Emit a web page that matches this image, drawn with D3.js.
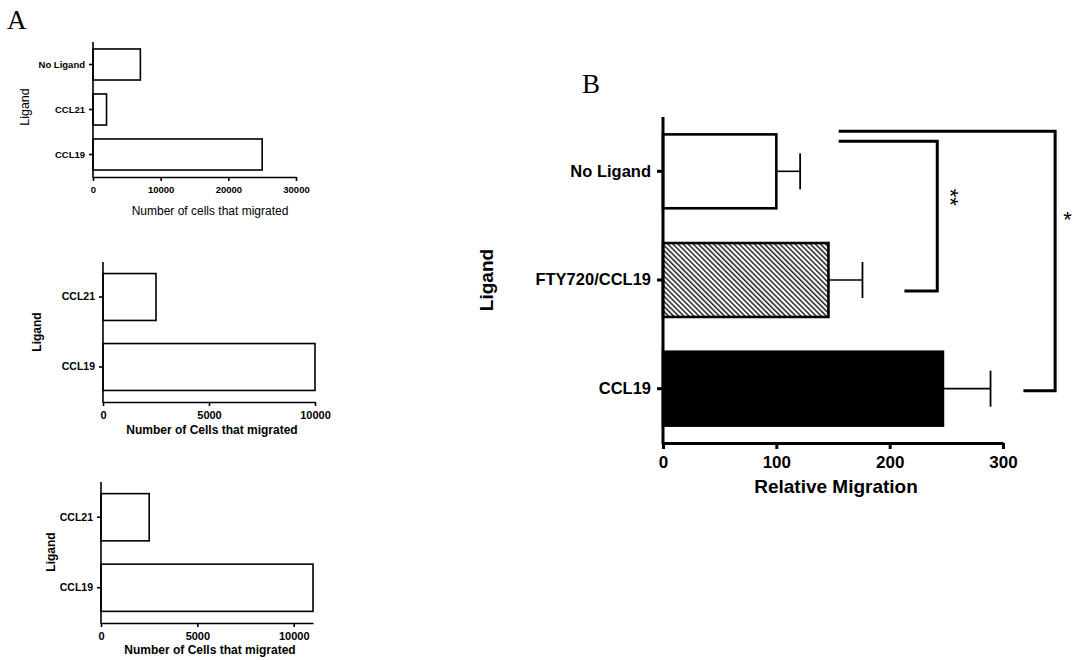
<!DOCTYPE html>
<html><head><meta charset="utf-8">
<script src="https://cdn.jsdelivr.net/npm/d3@7"></script>
<style>body{margin:0;background:#fff}svg{display:block}text{fill:#000}</style>
</head><body><svg id="c" width="1078" height="660" font-family="Liberation Sans, Arial, sans-serif"></svg>
<script>
// Panel A (top)
const a1Categories = ["No Ligand", "CCL21", "CCL19"];
const a1Values = [7000, 2000, 25000];
const a1Ticks = [0, 10000, 20000, 30000];
// Panel A (middle)
const a2Categories = ["CCL21", "CCL19"];
const a2Values = [2500, 10000];
const a2Ticks = [0, 5000, 10000];
// Panel A (bottom)
const a3Categories = ["CCL21", "CCL19"];
const a3Values = [2500, 11000];
const a3Ticks = [0, 5000, 10000];
// Panel B
const bCategories = ["No Ligand", "FTY720/CCL19", "CCL19"];
const bMeans = [100, 146, 247];
const bErrors = [21, 30, 42];
const bTicks = [0, 100, 200, 300];

const svg = d3.select("#c");
const defs = svg.append("defs");
const pat = defs.append("pattern").attr("id","hatch").attr("patternUnits","userSpaceOnUse")
  .attr("width",3.6).attr("height",3.6).attr("patternTransform","rotate(-45)");
pat.append("rect").attr("width",3.6).attr("height",3.6).attr("fill","#fff");
pat.append("line").attr("x1",0.8).attr("y1",0).attr("x2",0.8).attr("y2",3.6).attr("stroke","#000").attr("stroke-width",1.3);

function panel(o){
  const g = svg.append("g");
  const x = d3.scaleLinear().domain(o.domain).range([o.x0, o.x1]);
  const y = d3.scaleBand().domain(o.cats).range([o.yTop, o.yBottom]).paddingInner(o.pad).paddingOuter(o.pad/2);
  g.selectAll("rect.bar").data(o.vals).join("rect").attr("class","bar")
    .attr("x", x(0)).attr("y",(d,i)=>y(o.cats[i]))
    .attr("width", d=>x(d)-x(0)).attr("height", y.bandwidth())
    .attr("fill",(d,i)=>o.fills?o.fills[i]:"#fff").attr("stroke","#000").attr("stroke-width",o.barSW);
  if (o.errs){
    o.errs.forEach((e,i)=>{
      const cy = y(o.cats[i]) + y.bandwidth()/2;
      g.append("line").attr("x1",x(o.vals[i])).attr("x2",x(o.vals[i]+e)).attr("y1",cy).attr("y2",cy).attr("stroke","#000").attr("stroke-width",1.6);
      g.append("line").attr("x1",x(o.vals[i]+e)).attr("x2",x(o.vals[i]+e)).attr("y1",cy-18).attr("y2",cy+18).attr("stroke","#000").attr("stroke-width",1.8);
    });
  }
  const xa = g.append("g").attr("transform",`translate(0,${o.yBottom})`)
    .call(d3.axisBottom(x).tickValues(o.ticks).tickFormat(d3.format("d")).tickSize(o.tick).tickSizeOuter(0).tickPadding(o.tickPad));
  xa.attr("font-family",null);
  xa.select(".domain").attr("stroke-width",o.axSW);
  xa.selectAll(".tick line").attr("stroke-width",o.axSW);
  xa.selectAll("text").attr("font-size",o.tickFS).attr("font-weight","bold").attr("fill","#000");
  const ya = g.append("g").attr("transform",`translate(${o.x0},0)`)
    .call(d3.axisLeft(y).tickSize(o.tick).tickSizeOuter(0).tickPadding(o.tickPad-1));
  ya.attr("font-family",null);
  ya.select(".domain").attr("stroke-width",o.axSW).attr("d",`M0,${o.yTop}V${o.yBottom+o.axSW/2}`);
  ya.selectAll(".tick line").attr("stroke-width",o.axSW);
  ya.selectAll("text").attr("font-size",o.catFS).attr("font-weight","bold").attr("fill","#000");
  g.append("text").attr("x",o.titleX).attr("y",o.titleY).attr("text-anchor","middle").attr("dominant-baseline","middle")
    .attr("font-size",o.titleFS).attr("font-weight",o.titleW).text(o.title);
  g.append("text").attr("transform",`translate(${o.ligX},${o.ligY}) rotate(-90)`).attr("text-anchor","middle").attr("dominant-baseline","middle")
    .attr("font-size",o.ligFS).attr("font-weight",o.titleW).text("Ligand");
  return {x,y};
}

panel({cats:a1Categories, vals:a1Values, ticks:a1Ticks, domain:[0,30000], x0:93, x1:296, yTop:42, yBottom:177, pad:0.31,
  barSW:1.6, axSW:1.6, tick:4, tickPad:5, tickFS:9.5, catFS:9.5, title:"Number of cells that migrated", titleX:210, titleY:212,
  titleFS:12, titleW:"normal", ligX:26, ligY:107, ligFS:12.5});
panel({cats:a2Categories, vals:a2Values, ticks:a2Ticks, domain:[0,10000], x0:103, x1:315, yTop:262, yBottom:402, pad:0.33,
  barSW:1.6, axSW:1.6, tick:4, tickPad:5, tickFS:11, catFS:10.5, title:"Number of Cells that migrated", titleX:212, titleY:431,
  titleFS:12, titleW:"bold", ligX:38, ligY:332, ligFS:12});
panel({cats:a3Categories, vals:a3Values, ticks:a3Ticks, domain:[0,11000], x0:101, x1:313, yTop:482, yBottom:623, pad:0.33,
  barSW:1.6, axSW:1.6, tick:4, tickPad:5, tickFS:11, catFS:10.5, title:"Number of Cells that migrated", titleX:210, titleY:651,
  titleFS:12, titleW:"bold", ligX:52, ligY:552, ligFS:12});
const B = panel({cats:bCategories, vals:bMeans, errs:bErrors, fills:["#fff","url(#hatch)","#000"], ticks:bTicks, domain:[0,300],
  x0:663, x1:1003, yTop:117, yBottom:443, pad:0.32, barSW:2.6, axSW:3, tick:6, tickPad:7, tickFS:17, catFS:16.5,
  title:"Relative Migration", titleX:836, titleY:488, titleFS:19, titleW:"bold", ligX:488, ligY:280, ligFS:19});

const bx = B.x, by = B.y;
const c = k => by(bCategories[k]) + by.bandwidth()/2;
const br = svg.append("g").attr("fill","none").attr("stroke","#000").attr("stroke-width",3);
br.append("path").attr("d",`M${bx(155)},${c(0)-40}H${bx(346)}V${c(2)+2}H${bx(318)}`);
br.append("path").attr("d",`M${bx(155)},${c(0)-30}H${bx(242)}V${c(1)+11}H${bx(213)}`);
svg.append("text").attr("transform",`translate(${bx(252)},${c(0)+26}) rotate(90)`).attr("text-anchor","middle").attr("dominant-baseline","middle")
  .attr("font-size",22).text("**");
svg.append("text").attr("x",bx(357)).attr("y",c(0)+50).attr("text-anchor","middle").attr("dominant-baseline","middle")
  .attr("font-size",22).text("*");

svg.append("text").attr("x",7).attr("y",29).style("font-family","'Liberation Serif', serif").attr("font-size",27).text("A");
svg.append("text").attr("x",582).attr("y",93).style("font-family","'Liberation Serif', serif").attr("font-size",27).text("B");
</script></body></html>
